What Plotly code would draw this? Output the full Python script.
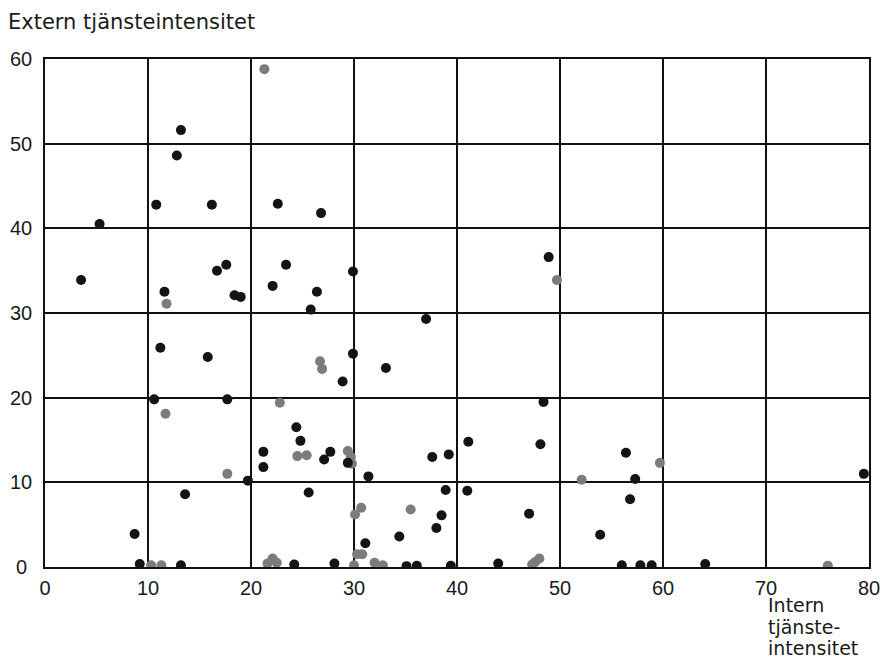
import plotly.graph_objects as go

# Black points (intern, extern)
black_x = [3.5, 5.3, 13.2, 12.8, 10.8, 16.2, 22.6, 26.8, 11.6, 17.6, 16.7, 18.4, 19.0, 23.4, 22.1, 26.4,
           25.8, 29.9, 48.9, 11.2, 15.8, 10.6, 17.7, 24.4, 24.8, 21.2, 21.2, 19.7, 13.6, 25.6, 8.7, 9.2,
           13.2, 24.2, 37.0, 29.9, 33.1, 28.9, 48.4, 27.7, 27.1, 29.4, 37.6, 39.2, 41.1, 48.1, 31.4, 38.9,
           41.0, 38.5, 47.0, 38.0, 34.4, 31.1, 28.1, 35.1, 36.1, 39.4, 44.0, 56.4, 57.3, 56.8, 53.9, 79.5,
           56.0, 57.8, 58.9, 64.1]
black_y = [33.9, 40.5, 51.6, 48.6, 42.8, 42.8, 42.9, 41.8, 32.5, 35.7, 35.0, 32.1, 31.9, 35.7, 33.2, 32.5,
           30.4, 34.9, 36.6, 25.9, 24.8, 19.8, 19.8, 16.5, 14.9, 13.6, 11.8, 10.2, 8.6, 8.8, 3.9, 0.35,
           0.2, 0.3, 29.3, 25.2, 23.5, 21.9, 19.5, 13.6, 12.7, 12.3, 13.0, 13.3, 14.8, 14.5, 10.7, 9.1,
           9.0, 6.1, 6.3, 4.6, 3.6, 2.8, 0.4, 0.1, 0.15, 0.15, 0.4, 13.5, 10.4, 8.0, 3.8, 11.0,
           0.2, 0.2, 0.2, 0.35]

# Grey points
grey_x = [21.3, 11.8, 49.7, 26.7, 26.9, 22.8, 11.7, 24.5, 25.4, 17.7, 29.4, 29.7, 29.8, 30.1, 30.7, 35.5,
          30.3, 30.8, 52.1, 59.7, 10.3, 11.3, 21.6, 22.1, 22.5, 30.0, 32.0, 32.8, 47.3, 47.6, 48.0, 76.0]
grey_y = [58.8, 31.1, 33.9, 24.3, 23.4, 19.4, 18.1, 13.1, 13.2, 11.0, 13.7, 13.0, 12.2, 6.2, 7.0, 6.8,
          1.5, 1.5, 10.3, 12.3, 0.2, 0.2, 0.4, 1.0, 0.5, 0.2, 0.5, 0.2, 0.3, 0.6, 1.0, 0.15]

x_ticks = [0, 10, 20, 30, 40, 50, 60, 70, 80]
y_ticks = [0, 10, 20, 30, 40, 50, 60]

y_title = "Extern tjänsteintensitet"
x_title_lines = ["Intern", "tjänste-", "intensitet"]

TICK_FONT = dict(family="Liberation Sans, Arial, sans-serif", size=20, color="#1a1a1a")
TITLE_FONT = dict(family="DejaVu Sans, sans-serif", size=21, color="#1a1a1a")
XT_FONT = dict(family="DejaVu Sans, sans-serif", size=19, color="#1a1a1a")

fig = go.Figure()
fig.add_trace(go.Scatter(x=grey_x, y=grey_y, mode="markers",
                         marker=dict(size=10, color="#7c7c7c", line=dict(width=0)),
                         showlegend=False, hoverinfo="skip"))
fig.add_trace(go.Scatter(x=black_x, y=black_y, mode="markers",
                         marker=dict(size=10, color="#141414", line=dict(width=0)),
                         showlegend=False, hoverinfo="skip"))

axis_common = dict(showgrid=True, gridcolor="#111111", gridwidth=1.5,
                   showline=True, linecolor="#111111", linewidth=2, mirror=True,
                   zeroline=False, ticks="", automargin=False)

fig.update_xaxes(range=[0, 80], tickvals=x_ticks, ticktext=[str(v) for v in x_ticks],
                 tickfont=TICK_FONT, ticklabelstandoff=2, ticklabeloverflow="allow",
                 **axis_common)
fig.update_yaxes(range=[0, 60], tickvals=y_ticks, showticklabels=False, **axis_common)

# y tick labels, centred in the left gutter
for v in y_ticks:
    fig.add_annotation(text=str(v), xref="paper", yref="y", x=(21 - 45) / 824, y=v,
                       xanchor="center", yanchor="middle", showarrow=False, font=TICK_FONT)

fig.add_annotation(text=y_title, xref="paper", yref="paper",
                   x=(6 - 45) / 824, y=(567 - 22) / 508, xanchor="left", yanchor="middle",
                   showarrow=False, font=TITLE_FONT)
for i, line in enumerate(x_title_lines):
    fig.add_annotation(text=line, xref="paper", yref="paper",
                       x=(766 - 45) / 824, y=(567 - (605 + 21.5 * i)) / 508,
                       xanchor="left", yanchor="middle", showarrow=False, font=XT_FONT)

fig.update_layout(width=880, height=669,
                  margin=dict(l=45, r=11, t=59, b=102, autoexpand=False),
                  paper_bgcolor="white", plot_bgcolor="white",
                  font=TICK_FONT)

fig.write_html("out.html", config={"displayModeBar": False},
               post_script="document.body.style.margin='0px';")
